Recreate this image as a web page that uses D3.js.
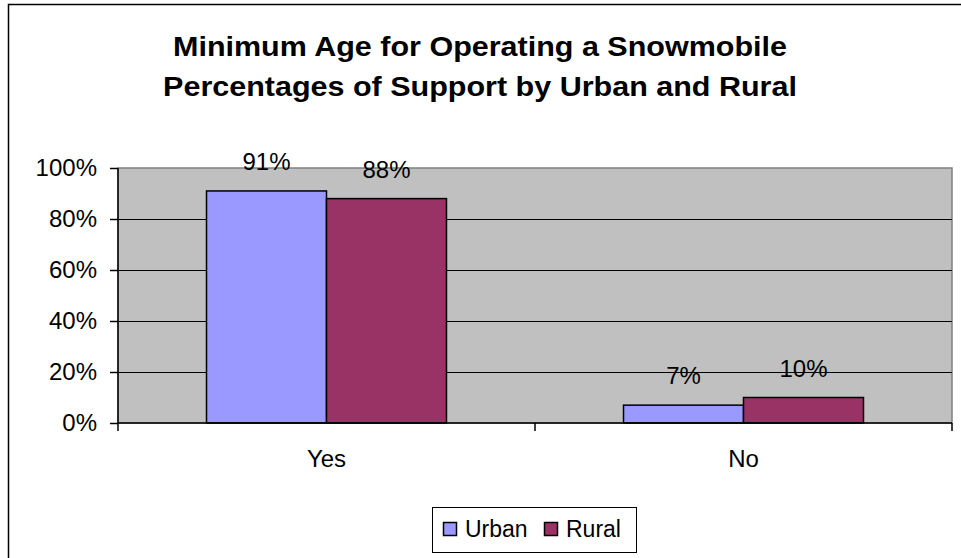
<!DOCTYPE html>
<html><head><meta charset="utf-8">
<script src="https://cdn.jsdelivr.net/npm/d3@7"></script>
<style>body{margin:0;background:#fff}svg{display:block}text{font-family:"Liberation Sans",Arial,sans-serif}</style>
</head><body><svg id="c" width="961" height="558"></svg>
<script>
const categories = ["Yes", "No"];
const seriesNames = ["Urban", "Rural"];
const urban = [0.91, 0.07];
const rural = [0.88, 0.10];
const yTicks = [0, 0.2, 0.4, 0.6, 0.8, 1.0];
const titleLines = ["Minimum Age for Operating a Snowmobile", "Percentages of Support by Urban and Rural"];
const colors = ["#9999ff", "#993366"];

const svg = d3.select("#c");
svg.append("rect").attr("x", 8.5).attr("y", 4.5).attr("width", 1000).attr("height", 1000)
  .attr("fill", "#fff").attr("stroke", "#000").attr("stroke-width", 1.5);

const L = 118, R = 952, T = 168, B = 423;
const x0 = d3.scaleBand().domain(categories).range([L, R]).paddingInner(0.4245).paddingOuter(0.21225);
const x1 = d3.scaleBand().domain(seriesNames).range([0, x0.bandwidth()]);
const y = d3.scaleLinear().domain([0, 1]).range([B, T]);

svg.append("rect").attr("x", L).attr("y", T).attr("width", R - L).attr("height", B - T)
  .attr("fill", "#c0c0c0").attr("stroke", "#808080").attr("stroke-width", 1.5);

svg.append("g").selectAll("line").data(yTicks.slice(1, -1)).join("line")
  .attr("x1", L).attr("x2", R).attr("y1", d => Math.round(y(d)) + 0.5).attr("y2", d => Math.round(y(d)) + 0.5)
  .attr("stroke", "#000").attr("stroke-width", 1);

const data = categories.map((c, i) => ({cat: c, vals: [urban[i], rural[i]]}));
const g = svg.append("g");
data.forEach(d => {
  d.vals.forEach((v, j) => {
    const xx = x0(d.cat) + x1(seriesNames[j]);
    g.append("rect").attr("x", xx).attr("y", y(v)).attr("width", x1.bandwidth()).attr("height", y(0) - y(v))
      .attr("fill", colors[j]).attr("stroke", "#000").attr("stroke-width", 1.5);
    g.append("text").attr("x", xx + x1.bandwidth() / 2).attr("y", y(v) - 21)
      .attr("text-anchor", "middle").attr("font-size", 24).text(Math.round(v * 100) + "%");
  });
});

// y axis
const yAxis = d3.axisLeft(y).tickValues(yTicks).tickFormat(d3.format(".0%")).tickSize(8).tickPadding(13);
const ya = svg.append("g").attr("transform", `translate(${L},0)`).call(yAxis);
ya.selectAll("text").attr("font-size", 24).attr("fill", "#000").style("font-family", '"Liberation Sans",Arial,sans-serif');
ya.selectAll("line,path").attr("stroke", "#000").attr("stroke-width", 1.5);
ya.select(".domain").attr("d", `M0,${B}V${T}`);

// x axis
const xa = svg.append("g").attr("transform", `translate(0,${B})`);
xa.append("line").attr("x1", L).attr("x2", R).attr("stroke", "#000").attr("stroke-width", 1.5);
const bounds = [L, ...categories.map(c => x0(c) + x0.bandwidth() / 2 + x0.step() / 2)];
xa.selectAll(".tk").data(bounds).join("line").attr("class", "tk")
  .attr("x1", d => d).attr("x2", d => d).attr("y1", 0).attr("y2", 8).attr("stroke", "#000").attr("stroke-width", 1.5);
xa.selectAll(".lb").data(categories).join("text").attr("class", "lb")
  .attr("x", d => x0(d) + x0.bandwidth() / 2).attr("y", 44).attr("text-anchor", "middle")
  .attr("font-size", 24).text(d => d);

// title
svg.append("g").attr("transform", "translate(480,0) scale(1.09,1)").selectAll("text").data(titleLines).join("text")
  .attr("x", 0).attr("y", (d, i) => 56 + i * 40).attr("text-anchor", "middle")
  .attr("font-size", 28).attr("font-weight", "bold").text(d => d);

// legend
const lg = svg.append("g");
lg.append("rect").attr("x", 432.5).attr("y", 507.5).attr("width", 204).attr("height", 45)
  .attr("fill", "#fff").attr("stroke", "#000").attr("stroke-width", 1);
const lx = [443, 544];
seriesNames.forEach((s, i) => {
  lg.append("rect").attr("x", lx[i] + 0.5).attr("y", 522.5).attr("width", 13).attr("height", 13)
    .attr("fill", colors[i]).attr("stroke", "#000").attr("stroke-width", 1.5);
  lg.append("text").attr("x", lx[i] + 22).attr("y", 537).attr("font-size", 23).text(s);
});
</script></body></html>
